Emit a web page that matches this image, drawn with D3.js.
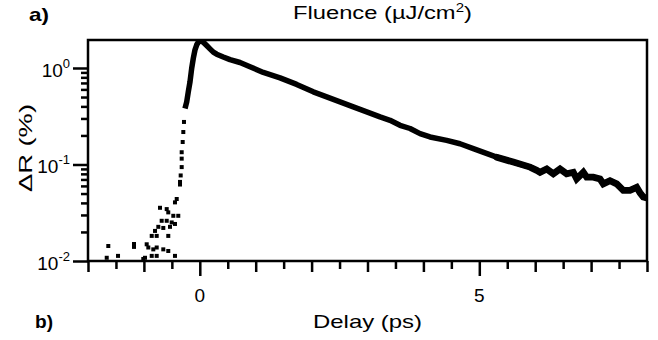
<!DOCTYPE html>
<html>
<head>
<meta charset="utf-8">
<script src="https://cdn.jsdelivr.net/npm/d3@7"></script>
<style>
  body { margin: 0; background: #fff; }
  svg text { font-family: "Liberation Sans", Arial, Helvetica, sans-serif; fill: #000; }
</style>
</head>
<body>
<svg id="chart" width="658" height="340"></svg>
<script>
// dense trace (rise edge + decay), delay in ps, dR in %
const lineDelay = [-0.265, -0.234, -0.206, -0.175, -0.145, -0.116, -0.086, -0.055, -0.027, 0.004,
  0.063, 0.123, 0.182, 0.242, 0.302, 0.420, 0.540, 0.719, 0.898, 1.136, 1.435, 1.733, 2.030,
  2.270, 2.508, 2.746, 2.986, 3.224, 3.403, 3.582, 3.761, 3.940, 4.118, 4.417, 4.655, 4.893,
  5.311, 5.608, 5.907, 6.027, 6.086, 6.206, 6.324, 6.444, 6.563, 6.682, 6.742, 6.861, 6.921,
  7.039, 7.159, 7.218, 7.338, 7.458, 7.576, 7.696, 7.816, 7.875, 7.934, 8.0];
const lineSignal = [0.38, 0.446, 0.566, 0.72, 0.993, 1.26, 1.54, 1.74, 1.85, 1.93,
  1.85, 1.71, 1.58, 1.46, 1.39, 1.30, 1.22, 1.14, 1.03, 0.90, 0.79, 0.676, 0.566,
  0.502, 0.446, 0.395, 0.351, 0.311, 0.287, 0.255, 0.236, 0.209, 0.193, 0.178, 0.164, 0.146,
  0.119, 0.106, 0.094, 0.087, 0.083, 0.090, 0.080, 0.090, 0.080, 0.083, 0.071, 0.083, 0.074,
  0.074, 0.071, 0.063, 0.068, 0.063, 0.054, 0.054, 0.058, 0.051, 0.046, 0.045];

// sparse points before time zero
const pointDelay = [-0.283, -0.295, -0.306, -0.324, -0.324, -0.324, -0.342, -0.354, -0.354,
  -0.413, -0.444, -0.712, -0.592, -0.564, -0.474, -0.385, -0.682, -0.592, -0.503, -0.444,
  -0.742, -0.653, -0.533, -0.801, -0.860, -0.771, -0.564, -0.950, -0.921, -0.832, -0.771,
  -0.653, -0.564, -0.980, -0.860, -0.771, -0.444, -1.011, -1.177, -1.177, -1.463, -1.637, -1.665];
const pointSignal = [0.276, 0.217, 0.171, 0.134, 0.115, 0.094, 0.077, 0.066, 0.062,
  0.0439, 0.0405, 0.0356, 0.0345, 0.0319, 0.0294, 0.0294, 0.0261, 0.0261, 0.0251, 0.0242,
  0.0226, 0.0220, 0.0226, 0.0205, 0.0182, 0.0182, 0.0182, 0.0149, 0.0138, 0.0132, 0.0138,
  0.0132, 0.0127, 0.0108, 0.0113, 0.0113, 0.0113, 0.0105, 0.0150, 0.0140, 0.0113, 0.0143, 0.0108];

const xMinorTicks = [-1.5, -0.5, 0.5, 1.5, 2.5, 3.5, 4.5, 5.5, 6.5, 7.5];
const xMajorTicks = [-2, -1, 1, 2, 3, 4, 6, 7, 8];
const xLabelTicks = [0, 5];
const yDecades = [0.01, 0.1, 1];
const yDecadeExp = ["-2", "-1", "0"];
const yMinorTicks = [0.02, 0.03, 0.04, 0.05, 0.06, 0.07, 0.08, 0.09,
  0.2, 0.3, 0.4, 0.5, 0.6, 0.7, 0.8, 0.9];

const plotLeft = 88, plotRight = 647, plotTop = 40, plotBottom = 261;

const svg = d3.select("#chart");

const x = d3.scaleLinear().domain([-2, 8]).range([plotLeft, plotRight]);
const y = d3.scaleLog().domain([0.01, 1.95]).range([plotBottom, plotTop]);

// clip for data
svg.append("defs").append("clipPath").attr("id", "plot-clip")
  .append("rect")
  .attr("x", plotLeft).attr("y", plotTop)
  .attr("width", plotRight - plotLeft).attr("height", plotBottom - plotTop);

const lineData = lineDelay.map((d, i) => [d, lineSignal[i]]);
const pointData = pointDelay.map((d, i) => [d, pointSignal[i]]);

const plot = svg.append("g").attr("clip-path", "url(#plot-clip)");
const traceLine = d3.line().x((d) => x(d[0])).y((d) => y(d[1]));

plot.append("path")
  .datum(lineData)
  .attr("fill", "none")
  .attr("stroke", "#000")
  .attr("stroke-width", 5.5)
  .attr("stroke-linejoin", "round")
  .attr("d", traceLine);

// noisier tail looks a bit thicker
plot.append("path")
  .datum(lineData.filter((d) => d[0] > 5.0))
  .attr("fill", "none")
  .attr("stroke", "#000")
  .attr("stroke-width", 6.8)
  .attr("stroke-linecap", "round")
  .attr("stroke-linejoin", "miter")
  .attr("d", traceLine);

plot.selectAll(".pt")
  .data(pointData)
  .enter()
  .append("rect")
  .attr("class", "pt")
  .attr("x", (d) => x(d[0]) - 2)
  .attr("y", (d) => y(d[1]) - 2)
  .attr("width", 4)
  .attr("height", 4)
  .attr("fill", "#000");

// x axis ticks (three lengths)
const addXTicks = (vals, size) => {
  const g = svg.append("g")
    .attr("transform", `translate(0, ${plotBottom})`)
    .call(d3.axisBottom(x).tickValues(vals).tickSize(size).tickFormat(""));
  g.select(".domain").remove();
  g.selectAll("line").attr("stroke", "#000").attr("stroke-width", 2.5);
  return g;
};
addXTicks(xMinorTicks, 8);
addXTicks(xMajorTicks, 11);
addXTicks(xLabelTicks, 15);

svg.selectAll(".xlab")
  .data(xLabelTicks)
  .enter()
  .append("text")
  .attr("class", "xlab")
  .attr("x", (d) => x(d))
  .attr("y", 302)
  .attr("text-anchor", "middle")
  .style("font-size", "19px")
  .text((d) => d);

// y axis ticks
const addYTicks = (vals, size) => {
  const g = svg.append("g")
    .attr("transform", `translate(${plotLeft}, 0)`)
    .call(d3.axisLeft(y).tickValues(vals).tickSize(size).tickFormat(""));
  g.select(".domain").remove();
  g.selectAll("line").attr("stroke", "#000").attr("stroke-width", 2.5);
};
addYTicks(yMinorTicks, 7);
addYTicks(yDecades, 15);

const ylab = svg.selectAll(".ylab")
  .data(yDecades)
  .enter()
  .append("text")
  .attr("class", "ylab")
  .attr("x", 70)
  .attr("y", (d) => y(d) + 9)
  .attr("text-anchor", "end")
  .style("font-size", "19px");
ylab.append("tspan").text("10");
ylab.append("tspan")
  .attr("dy", -9)
  .style("font-size", "13px")
  .text((d, i) => yDecadeExp[i]);

// frame
svg.append("rect")
  .attr("x", plotLeft).attr("y", plotTop)
  .attr("width", plotRight - plotLeft).attr("height", plotBottom - plotTop)
  .attr("fill", "none")
  .attr("stroke", "#000")
  .attr("stroke-width", 2.5);

// stretch a text group horizontally to a given width
const stretch = (g, x0, width) => {
  const w = g.node().getBBox().width;
  g.attr("transform", `translate(${x0}, 0) scale(${width / w}, 1)`);
};

// title
const tg = svg.append("g");
const title = tg.append("text").attr("x", 0).attr("y", 19).style("font-size", "19px");
title.append("tspan").text("Fluence (µJ/cm");
title.append("tspan").attr("dy", -7).style("font-size", "12px").text("2");
title.append("tspan").attr("dy", 7).text(")");
stretch(tg, 293, 179);

// x title
svg.append("text")
  .attr("x", 313)
  .attr("y", 328)
  .attr("textLength", 109)
  .attr("lengthAdjust", "spacingAndGlyphs")
  .style("font-size", "19px")
  .text("Delay (ps)");

// y title
svg.append("text")
  .attr("transform", "translate(31.5, 148) rotate(-90)")
  .attr("text-anchor", "middle")
  .attr("textLength", 88)
  .attr("lengthAdjust", "spacingAndGlyphs")
  .style("font-size", "19px")
  .text("ΔR (%)");

// panel labels
svg.append("text")
  .attr("x", 29)
  .attr("y", 21)
  .attr("textLength", 20)
  .attr("lengthAdjust", "spacingAndGlyphs")
  .style("font-size", "19px")
  .style("font-weight", "bold")
  .text("a)");

svg.append("text")
  .attr("x", 35)
  .attr("y", 328)
  .attr("textLength", 18)
  .attr("lengthAdjust", "spacingAndGlyphs")
  .style("font-size", "19px")
  .style("font-weight", "bold")
  .text("b)");
</script>
</body>
</html>
